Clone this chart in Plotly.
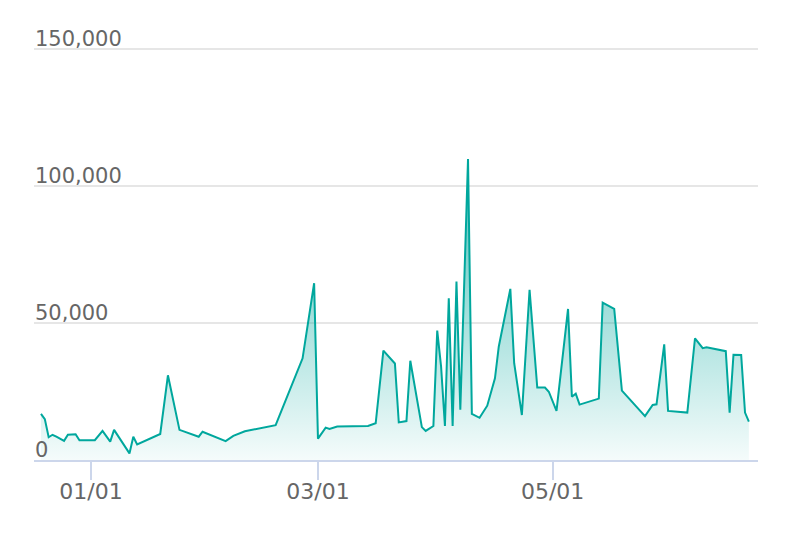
import plotly.graph_objects as go

dates = [
    "2022-12-19", "2022-12-20", "2022-12-21", "2022-12-22", "2022-12-23", "2022-12-25",
    "2022-12-26", "2022-12-28", "2022-12-29", "2023-01-02", "2023-01-04", "2023-01-06",
    "2023-01-07", "2023-01-11", "2023-01-12", "2023-01-13", "2023-01-19", "2023-01-21",
    "2023-01-24", "2023-01-29", "2023-01-30", "2023-02-05", "2023-02-07", "2023-02-10",
    "2023-02-18", "2023-02-25", "2023-02-28", "2023-03-01", "2023-03-03", "2023-03-04",
    "2023-03-06", "2023-03-14", "2023-03-16", "2023-03-18", "2023-03-21", "2023-03-22",
    "2023-03-24", "2023-03-25", "2023-03-28", "2023-03-29", "2023-03-31", "2023-04-01",
    "2023-04-02", "2023-04-03", "2023-04-04", "2023-04-05", "2023-04-06", "2023-04-07",
    "2023-04-09", "2023-04-10", "2023-04-12", "2023-04-14", "2023-04-16", "2023-04-17",
    "2023-04-20", "2023-04-21", "2023-04-23", "2023-04-25", "2023-04-27", "2023-04-29",
    "2023-04-30", "2023-05-02", "2023-05-05", "2023-05-06", "2023-05-07", "2023-05-08",
    "2023-05-13", "2023-05-14", "2023-05-17", "2023-05-19", "2023-05-25", "2023-05-27",
    "2023-05-28", "2023-05-30", "2023-05-31", "2023-06-05", "2023-06-07", "2023-06-09",
    "2023-06-10", "2023-06-15", "2023-06-16", "2023-06-17", "2023-06-19", "2023-06-20",
    "2023-06-21",
]
values = [
    16800, 14900, 8300, 9200, 8500, 7000,
    9200, 9400, 7200, 7200, 10600, 6700,
    11000, 2400, 8500, 5700, 9500, 30900,
    11000, 8500, 10300, 6900, 8800, 10500,
    12700, 37100, 64500, 7800, 11800, 11300,
    12200, 12400, 13400, 39900, 35200, 13700,
    14200, 36200, 12000, 10600, 12400, 47200,
    34100, 12400, 59000, 12400, 65100, 18300,
    109800, 16800, 15400, 19800, 29800, 41400,
    62400, 35300, 16400, 62100, 26400, 26400,
    24900, 17900, 55100, 23100, 24200, 20200,
    22400, 57400, 55100, 25300, 16000, 20100,
    20300, 42200, 17900, 17300, 44400, 40800,
    41100, 39700, 17300, 38400, 38300, 17300,
    14000,
]
y_ticks = [0, 50000, 100000, 150000]
y_tick_labels = ["0", "50,000", "100,000", "150,000"]
x_ticks = ["2023-01-01", "2023-03-01", "2023-05-01"]

LINE = "#00a79d"

fig = go.Figure()
fig.add_trace(go.Scatter(
    x=dates, y=values, mode="lines",
    line=dict(color=LINE, width=2),
    fill="tozeroy",
    fillgradient=dict(
        type="vertical", start=0, stop=max(values),
        colorscale=[[0, "rgba(0,167,157,0.04)"], [1, "rgba(0,167,157,0.7)"]],
    ),
    hoverinfo="skip",
))

for v, lab in zip(y_ticks, y_tick_labels):
    fig.add_annotation(
        x=0, xref="paper", y=v, yref="y", text=lab, showarrow=False,
        xanchor="left", yanchor="bottom", xshift=-1, yshift=-4,
        font=dict(family="DejaVu Sans", size=21, color="#666666"),
    )

fig.update_layout(
    width=800, height=542,
    margin=dict(l=34, r=42, t=46, b=82),
    paper_bgcolor="white", plot_bgcolor="white",
    showlegend=False,
    font=dict(family="DejaVu Sans", color="#666666", size=21),
)
fig.update_xaxes(
    type="date",
    range=["2022-12-17 04:30", "2023-06-23 09:00"],
    tickvals=x_ticks, tickformat="%m/%d",
    ticks="outside", ticklen=18, tickwidth=2, tickcolor="#ccd6eb",
    ticklabelstandoff=-7,
    showline=True, linecolor="#ccd6eb", linewidth=2,
    showgrid=False, zeroline=False,
    tickfont=dict(size=22, color="#666666"),
)
fig.update_yaxes(
    range=[0, 151000],
    tickvals=y_ticks, showticklabels=False,
    showgrid=True, gridcolor="#e6e6e6", gridwidth=2,
    zeroline=False, showline=False, ticks="",
)

fig.write_html("out.html")
